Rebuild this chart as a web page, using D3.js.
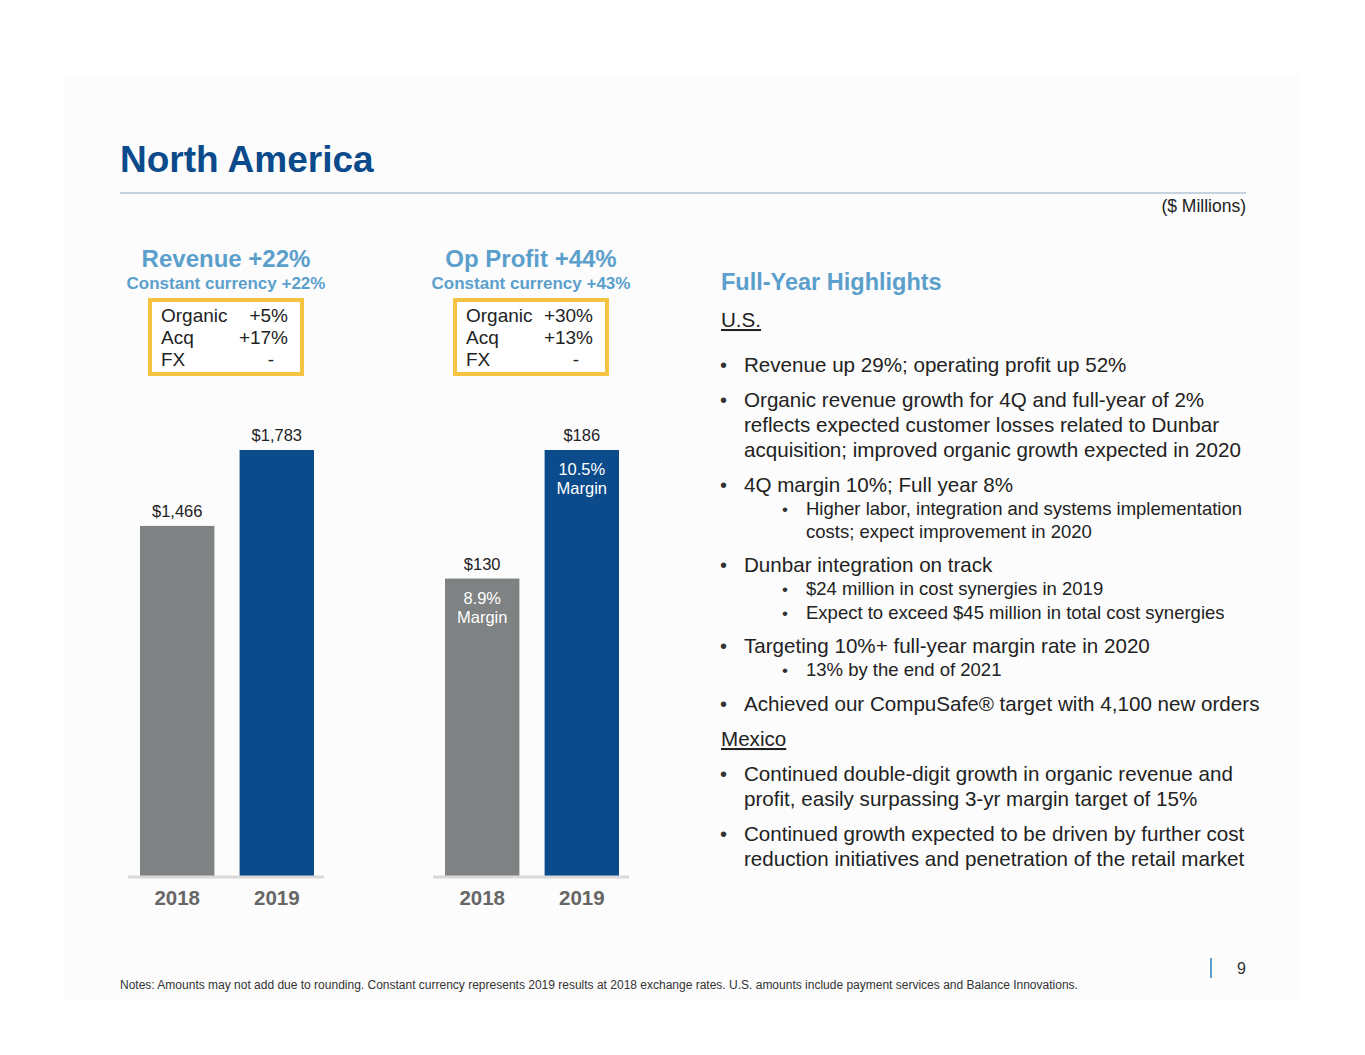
<!DOCTYPE html>
<html><head><meta charset="utf-8">
<script src="https://cdn.jsdelivr.net/npm/d3@7"></script>
<style>body{margin:0;background:#fff}text{font-family:"Liberation Sans",Arial,sans-serif}</style>
</head><body>
<script>
//data
var years = ["2018", "2019"];
var revenue = [1466, 1783];
var opProfit = [130, 186];
var margins = ["8.9%", "10.5%"];
var revBreak = [["Organic", "+5%"], ["Acq", "+17%"], ["FX", "-"]];
var opBreak = [["Organic", "+30%"], ["Acq", "+13%"], ["FX", "-"]];
var barColors = ["#7f8282", "#0b4a8b"];

var w = 1365, h = 1055;
var svg = d3.select("body").append("svg").attr("width", w).attr("height", h);

//faint slide background
svg.append("rect").attr("x", 65).attr("y", 75).attr("width", 1235).attr("height", 925).style("fill", "#fcfcfc");

svg.append("text").attr("x", 120).attr("y", 172).style("font-size", "37px").style("font-weight", "bold")
    .style("fill", "#0b4a8b").text("North America");
svg.append("line").attr("x1", 120).attr("x2", 1246).attr("y1", 193).attr("y2", 193).style("stroke", "#8fa7bd");
svg.append("text").attr("x", 1246).attr("y", 212).attr("text-anchor", "end").style("font-size", "17.5px")
    .style("fill", "#222").text("($ Millions)");

//one bar panel
function panel(x0, vals, title, sub, brk, fmt, showMargin){
    var cx = x0 + 98;
    svg.append("text").attr("x", cx).attr("y", 267).attr("text-anchor", "middle").style("font-size", "24px")
        .style("font-weight", "bold").style("fill", "#5b9fcc").text(title);
    svg.append("text").attr("x", cx).attr("y", 289).attr("text-anchor", "middle").style("font-size", "17px")
        .style("font-weight", "bold").style("fill", "#5b9fcc").text(sub);
    svg.append("rect").attr("x", x0 + 22).attr("y", 300).attr("width", 152).attr("height", 74)
        .style("fill", "#fff").style("stroke", "#f5c342").style("stroke-width", 4);
    brk.forEach(function(r, i){
        svg.append("text").attr("x", x0 + 33).attr("y", 322 + i * 22).style("font-size", "19px").style("fill", "#222").text(r[0]);
        svg.append("text").attr("x", r[1] == "-" ? x0 + 143 : x0 + 160).attr("y", 322 + i * 22).attr("text-anchor", r[1] == "-" ? "middle" : "end")
            .style("font-size", "19px").style("fill", "#222").text(r[1]);
    });

    var x = d3.scaleBand().domain(years).range([x0 + 12, x0 + 186]).paddingInner(0.253).paddingOuter(0);
    var y = d3.scaleLinear().domain([0, d3.max(vals)]).range([877, 450]);

    svg.selectAll(null).data(vals).enter().append("rect")
        .attr("x", function(d, i){ return x(years[i]); })
        .attr("y", function(d){ return y(d); })
        .attr("width", x.bandwidth())
        .attr("height", function(d){ return 877 - y(d); })
        .style("fill", function(d, i){ return barColors[i]; });

    svg.selectAll(null).data(vals).enter().append("text")
        .attr("x", function(d, i){ return x(years[i]) + x.bandwidth() / 2; })
        .attr("y", function(d){ return y(d) - 9; })
        .attr("text-anchor", "middle").style("font-size", "16.5px").style("fill", "#222")
        .text(fmt);

    if (showMargin){
        vals.forEach(function(d, i){
            var t = svg.append("text").attr("x", x(years[i]) + x.bandwidth() / 2).attr("y", y(d) + 25)
                .attr("text-anchor", "middle").style("font-size", "16.5px").style("fill", "#fff");
            t.append("tspan").text(margins[i]);
            t.append("tspan").attr("x", x(years[i]) + x.bandwidth() / 2).attr("dy", 19).text("Margin");
        });
    }

    svg.append("line").attr("x1", x0).attr("x2", x0 + 196).attr("y1", 877).attr("y2", 877)
        .style("stroke", "#d9d9d9").style("stroke-width", 3);
    var ax = d3.axisBottom(x).tickSize(0).tickPadding(12);
    var g = svg.append("g").attr("transform", "translate(0,878)").call(ax);
    g.select(".domain").remove();
    g.selectAll("text").style("font-size", "20.5px").style("font-weight", "bold").style("fill", "#666")
        .style("font-family", "Liberation Sans, Arial, sans-serif");
}

panel(128, revenue, "Revenue +22%", "Constant currency +22%", revBreak, function(d){ return "$" + d3.format(",")(d); }, false);
panel(433, opProfit, "Op Profit +44%", "Constant currency +43%", opBreak, function(d){ return "$" + d; }, true);

//highlights
svg.append("text").attr("x", 721).attr("y", 290).style("font-size", "23.5px").style("font-weight", "bold")
    .style("fill", "#5b9fcc").text("Full-Year Highlights");

var lines = [
    ["u", 327, "U.S."],
    ["b", 372, "Revenue up 29%; operating profit up 52%"],
    ["b", 407, "Organic revenue growth for 4Q and full-year of 2%"],
    ["c", 432, "reflects expected customer losses related to Dunbar"],
    ["c", 457, "acquisition; improved organic growth expected in 2020"],
    ["b", 492, "4Q margin 10%; Full year 8%"],
    ["s", 515, "Higher labor, integration and systems implementation"],
    ["sc", 538, "costs; expect improvement in 2020"],
    ["b", 572, "Dunbar integration on track"],
    ["s", 595, "$24 million in cost synergies in 2019"],
    ["s", 619, "Expect to exceed $45 million in total cost synergies"],
    ["b", 653, "Targeting 10%+ full-year margin rate in 2020"],
    ["s", 676, "13% by the end of 2021"],
    ["b", 711, "Achieved our CompuSafe\u00ae target with 4,100 new orders"],
    ["u", 746, "Mexico"],
    ["b", 781, "Continued double-digit growth in organic revenue and"],
    ["c", 806, "profit, easily surpassing 3-yr margin target of 15%"],
    ["b", 841, "Continued growth expected to be driven by further cost"],
    ["c", 866, "reduction initiatives and penetration of the retail market"]
];
lines.forEach(function(l){
    var t = l[0], small = (t == "s" || t == "sc");
    var fs = small ? "18.5px" : "20.6px";
    if (t == "b") svg.append("text").attr("x", 720).attr("y", l[1]).style("font-size", "20px").style("fill", "#333").text("\u2022");
    if (t == "s") svg.append("text").attr("x", 782).attr("y", l[1]).style("font-size", "17px").style("fill", "#333").text("\u2022");
    var tx = t == "u" ? 721 : (small ? 806 : 744);
    svg.append("text").attr("x", tx).attr("y", l[1]).style("font-size", fs).style("fill", "#222")
        .style("text-decoration", t == "u" ? "underline" : null).text(l[2]);
});

svg.append("line").attr("x1", 1211).attr("x2", 1211).attr("y1", 958).attr("y2", 978).style("stroke", "#5b9fcc").style("stroke-width", 2);
svg.append("text").attr("x", 1246).attr("y", 974).attr("text-anchor", "end").style("font-size", "16px").style("fill", "#333").text("9");
svg.append("text").attr("x", 120).attr("y", 989).style("font-size", "12px").style("fill", "#333")
    .text("Notes: Amounts may not add due to rounding.  Constant currency represents 2019 results at 2018 exchange rates. U.S. amounts include payment services and Balance Innovations.");
</script>
</body></html>
